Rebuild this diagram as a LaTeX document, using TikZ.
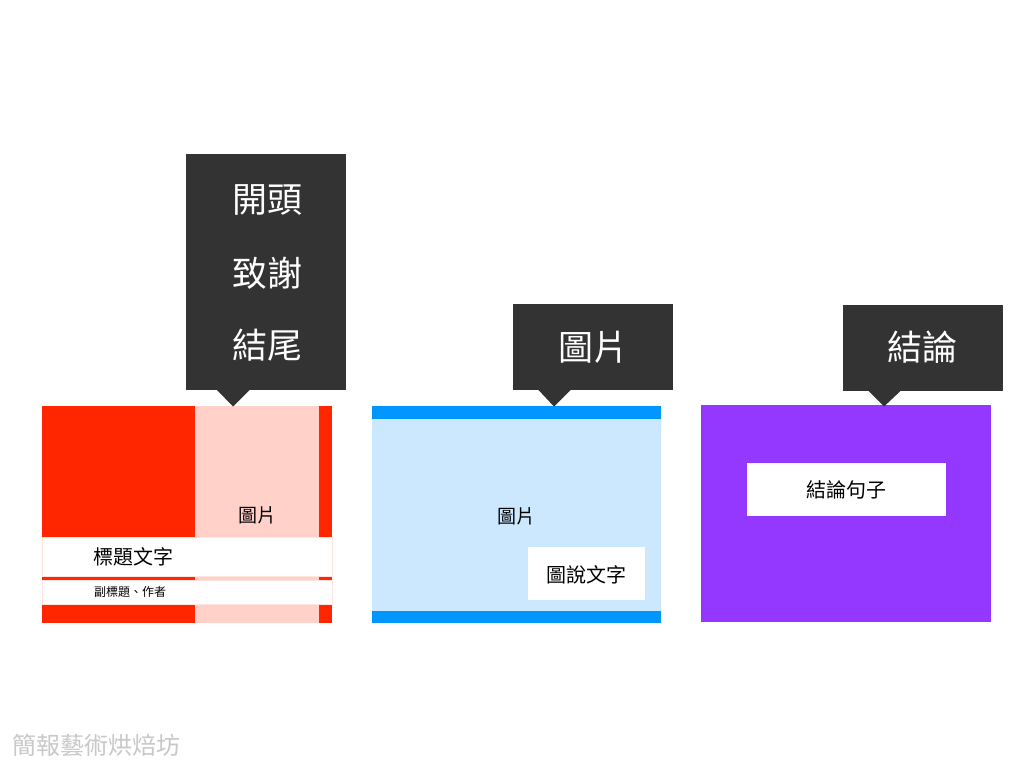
\documentclass[tikz,border=0pt]{standalone}
\usepackage{fontspec}
\setmainfont{Noto Sans CJK TC}
\definecolor{cred}{HTML}{FF2600}
\definecolor{cpink}{HTML}{FFD1C9}
\definecolor{cblue}{HTML}{0096FF}
\definecolor{clblue}{HTML}{CCE8FF}
\definecolor{cpurple}{HTML}{9437FF}
\definecolor{cdark}{HTML}{333333}
\definecolor{cgray}{HTML}{C8C8C8}
\tikzset{
  box/.style={rectangle, inner sep=0pt, outer sep=0pt, anchor=north west},
  callout/.style={box, fill=cdark},
  bigtxt/.style={text=white, font=\fontsize{35}{40}\selectfont, inner sep=0pt},
  midtxt/.style={text=black, font=\fontsize{19}{22}\selectfont, inner sep=0pt},
}
\begin{document}
\begin{tikzpicture}[x=1pt,y=-1pt]
\useasboundingbox (0,0) rectangle (1024,768);
\fill[white] (0,0) rectangle (1024,768);

% ---- card 1 (red)
\node[box, fill=cred, minimum width=290pt, minimum height=217pt] (c1) at (42,406) {};
\node[box, fill=cpink, minimum width=124pt, minimum height=217pt] (c1p) at (195,406) {};
\node[box, fill=white, draw=cpink!60, line width=0.4pt, minimum width=290pt, minimum height=39pt] (c1t) at (42,537) {};
\node[box, fill=white, draw=cpink!60, line width=0.4pt, minimum width=290pt, minimum height=24pt] (c1s) at (42,580) {};
\node[midtxt] (c1img) at (257,515) {圖片};
\node[text=black, font=\fontsize{20}{24}\selectfont, inner sep=0pt] (c1title) at (133,557) {標題文字};
\node[text=black, font=\fontsize{12}{14}\selectfont, inner sep=0pt] (c1sub) at (130,592) {副標題、作者};

% callout 1
\node[callout, minimum width=160pt, minimum height=236pt] (k1) at (186,154) {};
\fill[cdark] (216.5,389.5) -- (250,389.5) -- (233,406.5) -- cycle;
\node[bigtxt] (k1a) at (267,200) {開頭};
\node[bigtxt] (k1b) at (267,273) {致謝};
\node[bigtxt] (k1c) at (267,345) {結尾};

% ---- card 2 (blue)
\node[box, fill=clblue, minimum width=289pt, minimum height=217pt] (c2) at (372,406) {};
\node[box, fill=cblue, minimum width=289pt, minimum height=13pt] (c2top) at (372,406) {};
\node[box, fill=cblue, minimum width=289pt, minimum height=12pt] (c2bot) at (372,611) {};
\node[midtxt] (c2img) at (516,516) {圖片};
\node[box, fill=white, minimum width=117pt, minimum height=53pt] (c2cap) at (528,547) {};
\node[text=black, font=\fontsize{20}{24}\selectfont, inner sep=0pt] (c2captxt) at (586.5,575) {圖說文字};

% callout 2
\node[callout, minimum width=160pt, minimum height=86pt] (k2) at (513,304) {};
\fill[cdark] (538,389.5) -- (571,389.5) -- (554,406.5) -- cycle;
\node[bigtxt] (k2a) at (593,347) {圖片};

% ---- card 3 (purple)
\node[box, fill=cpurple, minimum width=290pt, minimum height=217pt] (c3) at (701,405) {};
\node[box, fill=white, minimum width=199pt, minimum height=53pt] (c3s) at (747,463) {};
\node[text=black, font=\fontsize{20}{24}\selectfont, inner sep=0pt] (c3txt) at (846,490) {結論句子};

% callout 3
\node[callout, minimum width=160pt, minimum height=86pt] (k3) at (843,305) {};
\fill[cdark] (868,390.5) -- (901,390.5) -- (884,406.5) -- cycle;
\node[bigtxt] (k3a) at (922,347) {結論};

% footer
\node[text=cgray, font=\fontsize{24}{27}\selectfont, inner sep=0pt, anchor=west] (foot) at (12,745) {簡報藝術烘焙坊};
\end{tikzpicture}
\end{document}
